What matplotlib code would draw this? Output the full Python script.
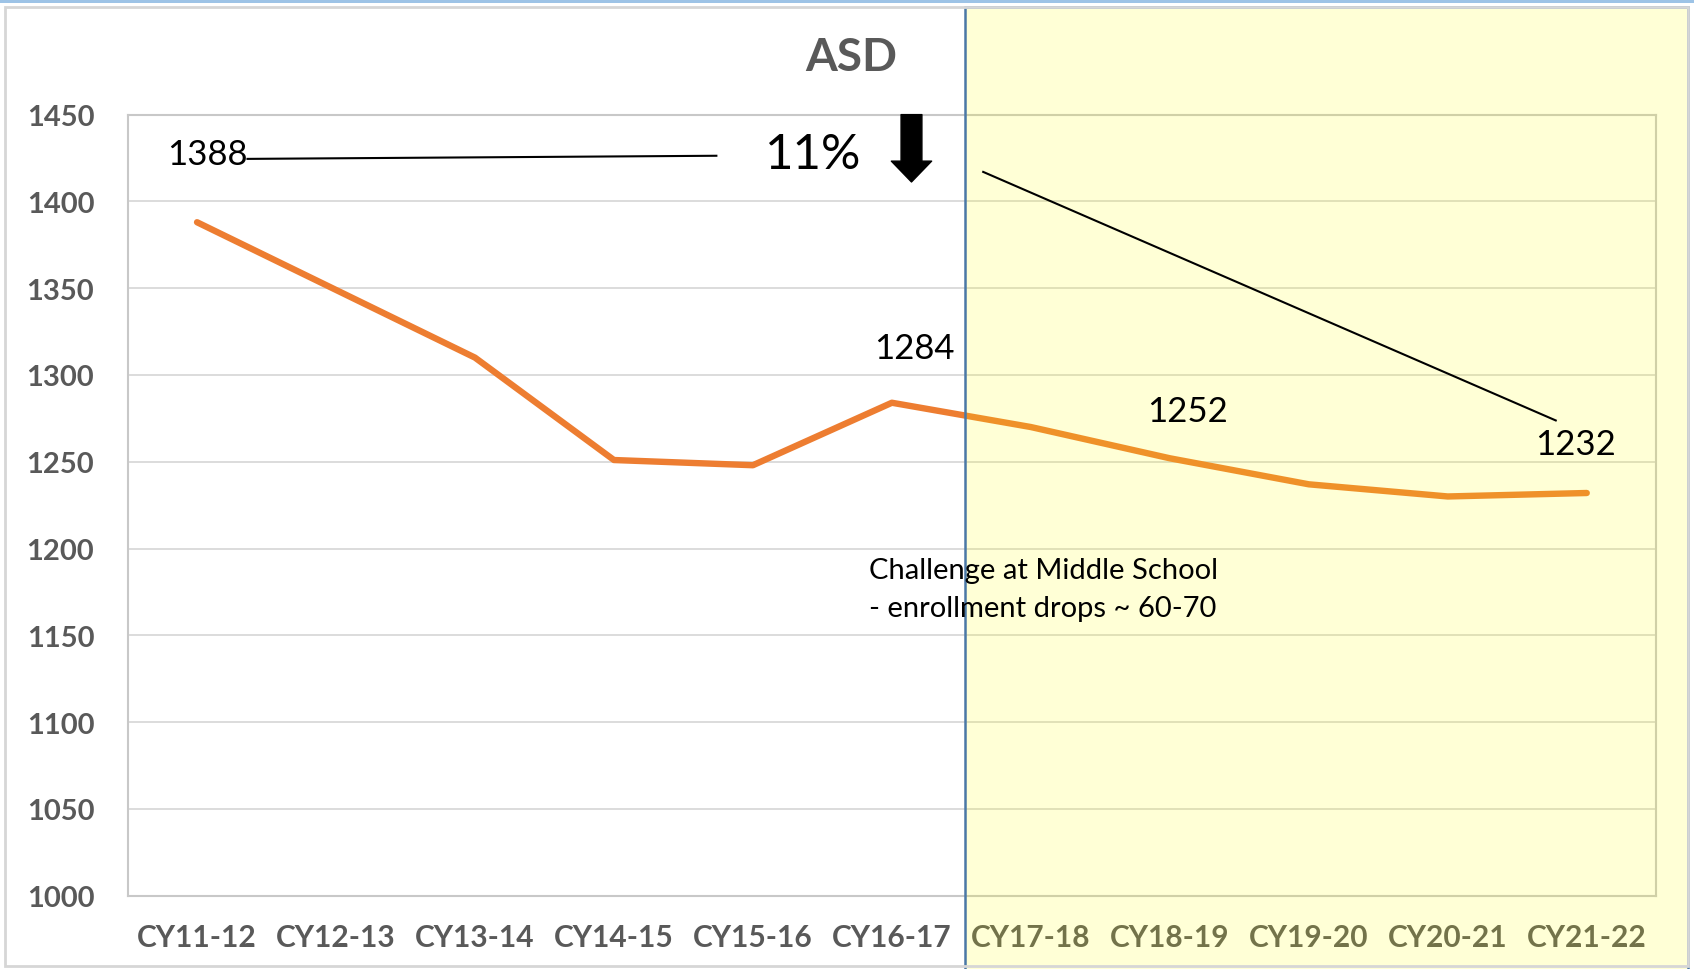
import matplotlib
matplotlib.use('Agg')
from matplotlib import pyplot as plt
from matplotlib.patches import Rectangle

# enrollment per school year
years = ['CY11-12', 'CY12-13', 'CY13-14', 'CY14-15', 'CY15-16', 'CY16-17',
         'CY17-18', 'CY18-19', 'CY19-20', 'CY20-21', 'CY21-22']
enroll = [1388, 1349, 1310, 1251, 1248, 1284, 1270, 1252, 1237, 1230, 1232]
yticks = [1000, 1050, 1100, 1150, 1200, 1250, 1300, 1350, 1400, 1450]

plt.rcParams['font.family'] = ['Lato', 'DejaVu Sans']
GRAY = '#595959'

fig = plt.figure(figsize=(16.94, 9.70), dpi=100)
ax = fig.add_axes([0.0753, 0.0756, 0.9024, 0.8052])

x = list(range(len(years)))
ax.plot(x, enroll, color='#ED7D31', lw=4.6, solid_capstyle='round', zorder=2)

ax.set_xlim(-0.5, len(years) - 0.5)
ax.set_ylim(1000, 1450)
ax.set_yticks(yticks)
ax.set_xticks(x)
ax.set_xticklabels(years)
ax.tick_params(axis='y', length=0, pad=24, labelsize=21, labelcolor=GRAY)
ax.tick_params(axis='x', length=0, pad=20, labelsize=21.5, labelcolor=GRAY)
for lab in ax.get_xticklabels() + ax.get_yticklabels():
    lab.set_fontweight('bold')
ax.grid(axis='y', color='#D9D9D9', lw=1.3)
ax.set_axisbelow(True)
for s in ax.spines.values():
    s.set_color('#C8C8C8')
    s.set_linewidth(1.5)

# outer chart border and header strip
fig.add_artist(Rectangle((5.4 / 1694, 3 / 970), 1683 / 1694, 959 / 970,
                         transform=fig.transFigure, fill=False,
                         edgecolor='#D6D6D6', lw=2, zorder=1))
fig.add_artist(Rectangle((0, 1 - 3.5 / 970), 1, 3.5 / 970,
                         transform=fig.transFigure, facecolor='#9DC3E6',
                         edgecolor='none', zorder=1))

# projected years shaded region (overlay)
shade = Rectangle((965 / 1694, 0), 723 / 1694, 1 - 7.5 / 970,
                  transform=fig.transFigure, facecolor='#FFFF00', alpha=0.16,
                  edgecolor='none', clip_on=False, zorder=2.6)
ax.add_patch(shade)
border = Rectangle((965 / 1694, -0.01), 723 / 1694, 1.01 - 7.5 / 970,
                   transform=fig.transFigure, fill=False,
                   edgecolor='#4A78A6', lw=1.8, clip_on=False, zorder=2.7)
ax.add_patch(border)

fig.text(0.5026, 1 - 58 / 970, 'ASD', ha='center', va='center',
         fontsize=33, fontweight='bold', color=GRAY)

tkw = dict(ha='center', va='center', fontsize=25, color='black', zorder=5,
           annotation_clip=False)
ax.annotate('1388', (0.075, 1427.6), **tkw)
ax.plot([0.363, 3.737], [1424.5, 1426.3], color='black', lw=1.5, zorder=5,
        clip_on=False)
ax.annotate('11%', (4.436, 1427.6), ha='center', va='center', fontsize=35.5,
            color='black', zorder=5, annotation_clip=False)
ax.annotate('', xy=(5.141, 1411.2), xytext=(5.141, 1450),
            arrowprops=dict(arrowstyle='simple,head_width=29,head_length=15,tail_width=15',
                            mutation_scale=1, color='black', shrinkA=0, shrinkB=0),
            zorder=5, annotation_clip=False)
ax.plot([5.657, 9.777], [1417, 1273.8], color='black', lw=1.5, zorder=5)
ax.annotate('1284', (5.159, 1315.6), **tkw)
ax.annotate('1252', (7.126, 1279.5), **tkw)
ax.annotate('1232', (9.917, 1260.2), **tkw)
ax.annotate('Challenge at Middle School\n- enrollment drops ~ 60-70', (4.832, 1176.6),
            ha='left', va='center', fontsize=21, color='black', zorder=5,
            linespacing=1.55, annotation_clip=False)

fig.savefig('out.png', dpi=100)
